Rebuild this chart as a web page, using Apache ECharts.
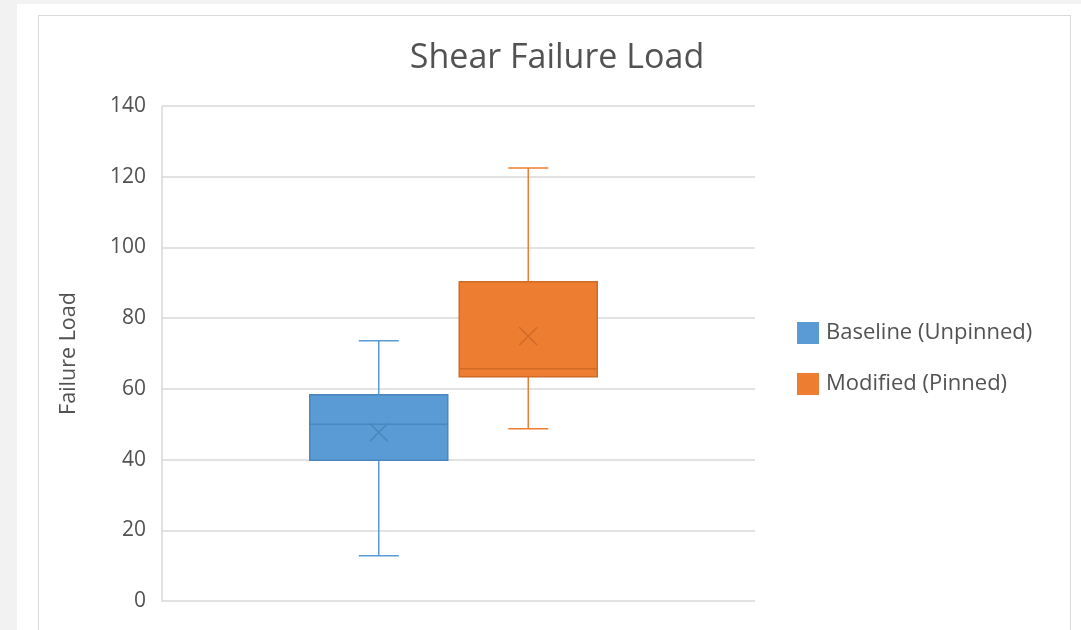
<!DOCTYPE html>
<html>
<head>
<meta charset="utf-8">
<script src="https://cdn.jsdelivr.net/npm/echarts@6/dist/echarts.min.js"></script>
<style>
  html, body { margin: 0; padding: 0; background: #f2f2f2; }
  .sheet { position: absolute; left: 17px; top: 4px; width: 1064px; height: 626px; background: #fff; }
  .frame { position: absolute; left: 38px; top: 15px; width: 1031px; height: 700px; border: 1px solid #d9d9d9; }
  #chart { position: absolute; left: 0; top: 0; width: 1081px; height: 630px; }
</style>
</head>
<body>
<div class="sheet"></div>
<div class="frame"></div>
<div id="chart"></div>
<script>
var groups = ['Baseline (Unpinned)', 'Modified (Pinned)'];
// min, Q1, median, Q3, max, mean
var baseline = [12.8, 39.8, 50.0, 58.3, 73.6, 47.7];
var modified = [48.7, 63.4, 65.7, 90.3, 122.5, 74.9];
var yTicks = [0, 20, 40, 60, 80, 100, 120, 140];

var fills = ['#5b9bd5', '#ed7d31'];
var edges = ['#4a86bf', '#d06a26'];

// draw one box and whisker group through the axis scales
function renderBox(params, api) {
    var c = api.value(0);
    var lo = api.coord([c, api.value(1)]);
    var q1 = api.coord([c, api.value(2)]);
    var md = api.coord([c, api.value(3)]);
    var q3 = api.coord([c, api.value(4)]);
    var hi = api.coord([c, api.value(5)]);
    var mn = api.coord([c, api.value(6)]);
    var x = lo[0];
    var bw = 138, cw = 40, m = 9;
    var fill = fills[params.seriesIndex];
    var edge = edges[params.seriesIndex];
    var line = { stroke: fill, lineWidth: 1.5 };
    return {
        type: 'group',
        children: [
            { type: 'line', shape: { x1: x, y1: hi[1], x2: x, y2: q3[1] }, style: line },
            { type: 'line', shape: { x1: x, y1: q1[1], x2: x, y2: lo[1] }, style: line },
            { type: 'line', shape: { x1: x - cw / 2, y1: hi[1], x2: x + cw / 2, y2: hi[1] }, style: line },
            { type: 'line', shape: { x1: x - cw / 2, y1: lo[1], x2: x + cw / 2, y2: lo[1] }, style: line },
            { type: 'rect', shape: { x: x - bw / 2, y: q3[1], width: bw, height: q1[1] - q3[1] },
              style: { fill: fill, stroke: edge, lineWidth: 1.5 } },
            { type: 'line', shape: { x1: x - bw / 2, y1: md[1], x2: x + bw / 2, y2: md[1] },
              style: { stroke: edge, lineWidth: 1.5 } },
            { type: 'line', shape: { x1: x - m, y1: mn[1] - m, x2: x + m, y2: mn[1] + m },
              style: { stroke: edge, lineWidth: 1.5 } },
            { type: 'line', shape: { x1: x - m, y1: mn[1] + m, x2: x + m, y2: mn[1] - m },
              style: { stroke: edge, lineWidth: 1.5 } }
        ]
    };
}

var font = 'Open Sans, sans-serif';
var ink = '#525252';
var chart = echarts.init(document.getElementById('chart'));
chart.setOption({
    animation: false,
    title: {
        text: 'Shear Failure Load',
        left: 552, top: 36, textAlign: 'center',
        textStyle: { fontFamily: font, fontSize: 34, fontWeight: 'normal', color: ink }
    },
    legend: {
        data: groups,
        orient: 'vertical',
        left: 792, top: 317,
        itemWidth: 22, itemHeight: 22, itemGap: 29,
        icon: 'rect',
        textStyle: { fontFamily: font, fontSize: 22, color: ink, padding: [0, 0, 0, 2] }
    },
    grid: [
        { left: 162, right: 326, top: 106, bottom: 29 },
        { left: 304, width: 299, top: 106, bottom: 29 }
    ],
    xAxis: [
        { type: 'category', gridIndex: 0, data: [''], show: false },
        { type: 'category', gridIndex: 1, data: groups, show: false }
    ],
    yAxis: [
        {
            type: 'value', gridIndex: 0, min: yTicks[0], max: yTicks[yTicks.length - 1], interval: 20,
            name: 'Failure Load', nameLocation: 'middle', nameRotate: 90, nameGap: 82,
            nameTextStyle: { fontFamily: font, fontSize: 21.5, color: ink },
            axisLine: { show: true, lineStyle: { color: '#d9d9d9', width: 1.5 } },
            axisTick: { show: false },
            axisLabel: { fontFamily: font, fontSize: 21, color: ink, margin: 16 },
            splitLine: { lineStyle: { color: '#d9d9d9', width: 1.5 } }
        },
        { type: 'value', gridIndex: 1, min: yTicks[0], max: yTicks[yTicks.length - 1], show: false, splitLine: { show: false } }
    ],
    series: [
        {
            name: groups[0], type: 'custom', xAxisIndex: 1, yAxisIndex: 1,
            itemStyle: { color: fills[0], borderColor: edges[0] },
            renderItem: renderBox,
            data: [[groups[0]].concat(baseline)]
        },
        {
            name: groups[1], type: 'custom', xAxisIndex: 1, yAxisIndex: 1,
            itemStyle: { color: fills[1], borderColor: edges[1] },
            renderItem: renderBox,
            data: [[groups[1]].concat(modified)]
        }
    ]
});
</script>
</body>
</html>
